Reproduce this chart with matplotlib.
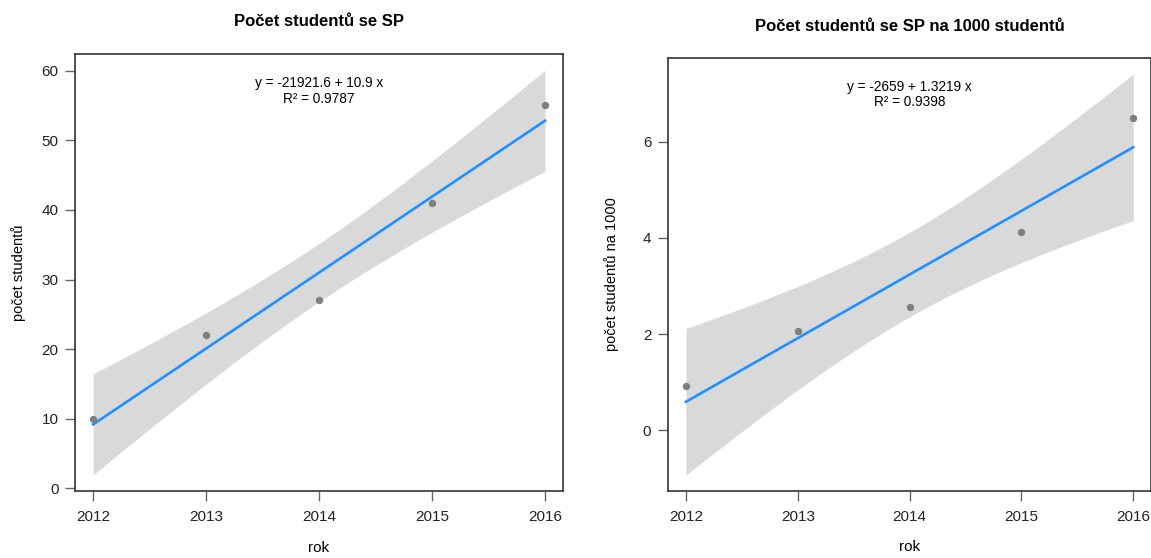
import numpy as np
import matplotlib.pyplot as plt

plt.rcParams['font.family'] = ['Liberation Sans', 'DejaVu Sans']

# data
roky = [2012, 2013, 2014, 2015, 2016]
pocet = [10, 22, 27, 41, 55]
pocet_na_1000 = [0.92, 2.07, 2.57, 4.13, 6.50]

tituly = ["Počet studentů se SP", "Počet studentů se SP na 1000 studentů"]
ylabely = ["počet studentů", "počet studentů na 1000"]
rovnice = ["y = -21921.6 + 10.9 x\nR² = 0.9787", "y = -2659 + 1.3219 x\nR² = 0.9398"]
yticky = [[0, 10, 20, 30, 40, 50, 60], [0, 2, 4, 6]]

T95 = 3.182446  # t(0.975, df=3)


def fit_band(x, y):
    x = np.array(x, dtype=float)
    y = np.array(y, dtype=float)
    n = len(x)
    b, a = np.polyfit(x, y, 1)
    res = y - (a + b * x)
    s = np.sqrt(np.sum(res ** 2) / (n - 2))
    xx = np.linspace(x.min(), x.max(), 80)
    yy = a + b * xx
    se = s * np.sqrt(1.0 / n + (xx - x.mean()) ** 2 / np.sum((x - x.mean()) ** 2))
    return xx, yy, yy - T95 * se, yy + T95 * se


fig = plt.figure(figsize=(11.51, 5.58), dpi=100)
pozice = [[0.0652, 0.120, 0.424, 0.783], [0.5804, 0.120, 0.4197, 0.776]]
pady = [20, 19.5]
sirky = [488, 483]

for i, yv in enumerate([pocet, pocet_na_1000]):
    ax = fig.add_axes(pozice[i])
    xx, yy, lo, hi = fit_band(roky, yv)
    ax.fill_between(xx, lo, hi, color='#d9d9d9', lw=0, zorder=1)
    ax.plot(xx, yy, color='#1e90ff', lw=1.9, zorder=2)
    ax.plot(roky, yv, 'o', color='#7f7f7f', ms=4.3, zorder=3)

    # R-like 4% expansion
    ymin, ymax = lo.min(), hi.max()
    pad = 0.04 * (ymax - ymin)
    ax.set_ylim(ymin - pad, ymax + pad)
    ax.set_xlim(2012 - 0.16, 2016 + 0.16)
    ax.set_xticks(roky)
    ax.set_yticks(yticky[i])

    ax.tick_params(direction='out', length=7, width=1, color='#666666',
                   labelsize=11, labelcolor='#222222')
    ax.tick_params(axis='x', pad=7)
    ax.tick_params(axis='y', pad=5)
    for sp in ax.spines.values():
        sp.set_color('#333333')
        sp.set_linewidth(1.2)

    ax.set_title(tituly[i], fontsize=12, fontweight='bold', pad=pady[i])
    ax.set_xlabel("rok", fontsize=11)
    ax.set_ylabel(ylabely[i], fontsize=10.5)
    ax.xaxis.set_label_coords(0.5, -0.114)
    ax.yaxis.set_label_coords(-49.0 / sirky[i], 0.5)

    ylo, yhi = ax.get_ylim()
    ax.text(2014, yhi - 0.05 * (yhi - ylo), rovnice[i], ha='center', va='top',
            fontsize=9.8, linespacing=1.15)

fig.savefig('out.png', dpi=100)
